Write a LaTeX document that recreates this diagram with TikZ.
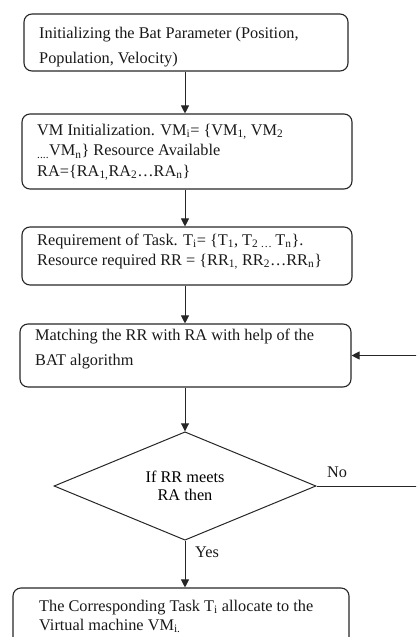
\documentclass[tikz,border=0pt]{standalone}
\usepackage{fontspec}
\setmainfont{Liberation Serif}
\usetikzlibrary{arrows.meta,shapes.geometric}
\newcommand{\mylines}[2]{\vtop{\baselineskip=#1\relax\lineskiplimit=-100pt\relax #2}}
\tikzset{
  box/.style={draw=black!85, line width=1.1pt, rounded corners=8pt, rectangle, inner sep=0pt},
  txt/.style={inner sep=0pt, anchor=base west, font=\fontsize{16.3}{20}\selectfont, text=black!90},
  arr/.style={draw=black!85, line width=0.9pt, -{Triangle[width=8pt,length=8pt]}},
  dec/.style={draw=black!85, line width=1pt, diamond, inner sep=0pt, minimum width=262pt, minimum height=100pt, align=center, font=\fontsize{16.3}{18}\selectfont}
}
\begin{document}
\begin{tikzpicture}[x=1pt,y=-1pt]
\useasboundingbox (0,0) rectangle (416,637);
\clip (0,0) rectangle (416,637);
% boxes
\node[box, minimum width=324pt, minimum height=57pt] (b1) at (186,42.5) {};
\node[box, minimum width=330pt, minimum height=75pt] (b2) at (187,151.5) {};
\node[box, minimum width=330pt, minimum height=58pt] (b3) at (187,256) {};
\node[box, minimum width=331pt, minimum height=63pt] (b4) at (185.5,355.5) {};
\node[box, minimum width=336pt, minimum height=72pt] (b5) at (181,624) {};
\node[dec] (d) at (185,486) {If RR meets\\RA then};
\coordinate (fb) at (440,0);
% texts
\node[txt] (t1) at (39,38) {\mylines{25pt}{\hbox{Initializing the Bat Parameter (Position,}\hbox{Population, Velocity)}}};
\node[txt] (t2) at (37,135) {\mylines{20.5pt}{\hbox{VM Initialization. VM\textsubscript{i}= \{VM\textsubscript{1,} VM\textsubscript{2}}\hbox{\textsubscript{....}VM\textsubscript{n}\} Resource Available}\hbox{RA=\{RA\textsubscript{1,}RA\textsubscript{2}…RA\textsubscript{n}\}}}};
\node[txt] (t3) at (37,245) {\mylines{20pt}{\hbox{Requirement of Task. T\textsubscript{i}= \{T\textsubscript{1}, T\textsubscript{2 … }T\textsubscript{n}\}.}\hbox{Resource required RR = \{RR\textsubscript{1,} RR\textsubscript{2}…RR\textsubscript{n}\}}}};
\node[txt] (t4) at (35,340) {\mylines{25pt}{\hbox{Matching the RR with RA with help of the}\hbox{BAT algorithm}}};
\node[txt] (t5) at (39,611) {\mylines{19pt}{\hbox{The Corresponding Task T\textsubscript{i} allocate to the}\hbox{Virtual machine VM\textsubscript{i.}}}};
\node[txt] (no) at (327,477) {No};
\node[txt] (yes) at (195,557) {Yes};
% connectors
\draw[arr] (b1.south -| d.north) -- (b2.north -| d.north);
\draw[arr] (b2.south -| d.north) -- (b3.north -| d.north);
\draw[arr] (b3.south -| d.north) -- (b4.north -| d.north);
\draw[arr] (b4.south -| d.north) -- (d.north);
\draw[arr] (d.south) -- (b5.north -| d.south);
\draw[arr] (d.east) -- (d.east -| fb) -- (b4.east -| fb) -- (b4.east);
\end{tikzpicture}
\end{document}
